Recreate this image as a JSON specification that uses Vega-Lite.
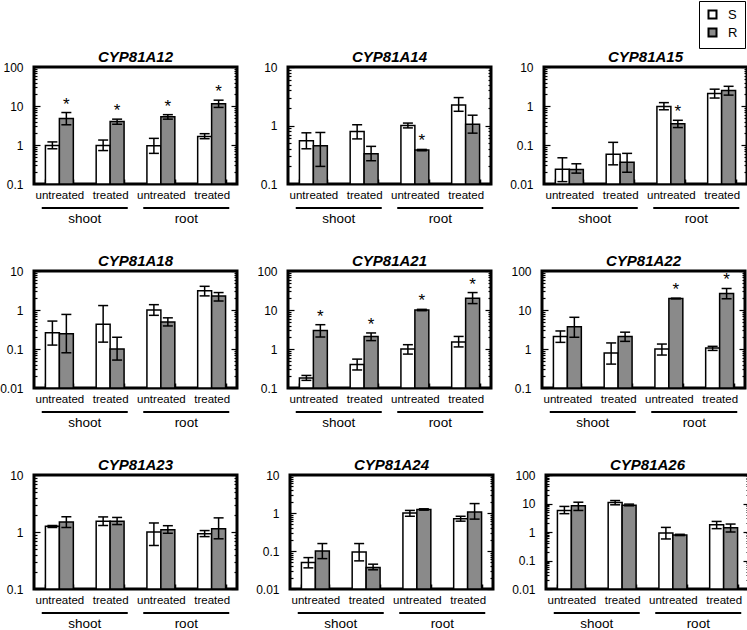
{
"$schema": "https://vega.github.io/schema/vega-lite/v6.json",
"padding": {"left": -2, "top": 0, "right": 0, "bottom": 0},
"data": {"name": "expr"},
"datasets": {"expr": [
{"gene":"CYP81A12","grp":"shoot untreated","strain":"S","v":0.97,"lo":0.8,"hi":1.2,"sig":false},
{"gene":"CYP81A12","grp":"shoot untreated","strain":"R","v":4.8,"lo":3.3,"hi":6.8,"sig":true},
{"gene":"CYP81A12","grp":"shoot treated","strain":"S","v":0.97,"lo":0.72,"hi":1.34,"sig":false},
{"gene":"CYP81A12","grp":"shoot treated","strain":"R","v":4.0,"lo":3.4,"hi":4.6,"sig":true},
{"gene":"CYP81A12","grp":"root untreated","strain":"S","v":0.96,"lo":0.61,"hi":1.48,"sig":false},
{"gene":"CYP81A12","grp":"root untreated","strain":"R","v":5.3,"lo":4.6,"hi":6.0,"sig":true},
{"gene":"CYP81A12","grp":"root treated","strain":"S","v":1.66,"lo":1.45,"hi":1.95,"sig":false},
{"gene":"CYP81A12","grp":"root treated","strain":"R","v":11.5,"lo":9.2,"hi":14.1,"sig":true},
{"gene":"CYP81A14","grp":"shoot untreated","strain":"S","v":0.55,"lo":0.4,"hi":0.75,"sig":false},
{"gene":"CYP81A14","grp":"shoot untreated","strain":"R","v":0.45,"lo":0.2,"hi":0.76,"sig":false},
{"gene":"CYP81A14","grp":"shoot treated","strain":"S","v":0.79,"lo":0.59,"hi":1.03,"sig":false},
{"gene":"CYP81A14","grp":"shoot treated","strain":"R","v":0.33,"lo":0.25,"hi":0.44,"sig":false},
{"gene":"CYP81A14","grp":"root untreated","strain":"S","v":1.0,"lo":0.91,"hi":1.1,"sig":false},
{"gene":"CYP81A14","grp":"root untreated","strain":"R","v":0.38,"lo":0.37,"hi":0.39,"sig":true},
{"gene":"CYP81A14","grp":"root treated","strain":"S","v":2.25,"lo":1.75,"hi":3.0,"sig":false},
{"gene":"CYP81A14","grp":"root treated","strain":"R","v":1.05,"lo":0.74,"hi":1.5,"sig":false},
{"gene":"CYP81A15","grp":"shoot untreated","strain":"S","v":0.024,"lo":0.0115,"hi":0.047,"sig":false},
{"gene":"CYP81A15","grp":"shoot untreated","strain":"R","v":0.0235,"lo":0.019,"hi":0.033,"sig":false},
{"gene":"CYP81A15","grp":"shoot treated","strain":"S","v":0.058,"lo":0.031,"hi":0.117,"sig":false},
{"gene":"CYP81A15","grp":"shoot treated","strain":"R","v":0.036,"lo":0.02,"hi":0.061,"sig":false},
{"gene":"CYP81A15","grp":"root untreated","strain":"S","v":0.97,"lo":0.8,"hi":1.22,"sig":false},
{"gene":"CYP81A15","grp":"root untreated","strain":"R","v":0.35,"lo":0.28,"hi":0.43,"sig":true},
{"gene":"CYP81A15","grp":"root treated","strain":"S","v":2.08,"lo":1.6,"hi":2.7,"sig":false},
{"gene":"CYP81A15","grp":"root treated","strain":"R","v":2.5,"lo":1.9,"hi":3.2,"sig":false},
{"gene":"CYP81A18","grp":"shoot untreated","strain":"S","v":0.26,"lo":0.126,"hi":0.52,"sig":false},
{"gene":"CYP81A18","grp":"shoot untreated","strain":"R","v":0.245,"lo":0.08,"hi":0.77,"sig":false},
{"gene":"CYP81A18","grp":"shoot treated","strain":"S","v":0.43,"lo":0.15,"hi":1.3,"sig":false},
{"gene":"CYP81A18","grp":"shoot treated","strain":"R","v":0.1,"lo":0.052,"hi":0.2,"sig":false},
{"gene":"CYP81A18","grp":"root untreated","strain":"S","v":1.0,"lo":0.73,"hi":1.37,"sig":false},
{"gene":"CYP81A18","grp":"root untreated","strain":"R","v":0.49,"lo":0.39,"hi":0.63,"sig":false},
{"gene":"CYP81A18","grp":"root treated","strain":"S","v":3.1,"lo":2.3,"hi":4.05,"sig":false},
{"gene":"CYP81A18","grp":"root treated","strain":"R","v":2.3,"lo":1.7,"hi":2.8,"sig":false},
{"gene":"CYP81A21","grp":"shoot untreated","strain":"S","v":0.18,"lo":0.157,"hi":0.21,"sig":false},
{"gene":"CYP81A21","grp":"shoot untreated","strain":"R","v":3.0,"lo":2.03,"hi":4.2,"sig":true},
{"gene":"CYP81A21","grp":"shoot treated","strain":"S","v":0.4,"lo":0.29,"hi":0.55,"sig":false},
{"gene":"CYP81A21","grp":"shoot treated","strain":"R","v":2.1,"lo":1.64,"hi":2.58,"sig":true},
{"gene":"CYP81A21","grp":"root untreated","strain":"S","v":1.0,"lo":0.74,"hi":1.29,"sig":false},
{"gene":"CYP81A21","grp":"root untreated","strain":"R","v":10,"lo":9.6,"hi":10.4,"sig":true},
{"gene":"CYP81A21","grp":"root treated","strain":"S","v":1.51,"lo":1.13,"hi":2.1,"sig":false},
{"gene":"CYP81A21","grp":"root treated","strain":"R","v":20,"lo":14.6,"hi":28,"sig":true},
{"gene":"CYP81A22","grp":"shoot untreated","strain":"S","v":2.1,"lo":1.48,"hi":2.9,"sig":false},
{"gene":"CYP81A22","grp":"shoot untreated","strain":"R","v":3.7,"lo":2.0,"hi":6.5,"sig":false},
{"gene":"CYP81A22","grp":"shoot treated","strain":"S","v":0.79,"lo":0.41,"hi":1.43,"sig":false},
{"gene":"CYP81A22","grp":"shoot treated","strain":"R","v":2.1,"lo":1.57,"hi":2.7,"sig":false},
{"gene":"CYP81A22","grp":"root untreated","strain":"S","v":1.0,"lo":0.7,"hi":1.34,"sig":false},
{"gene":"CYP81A22","grp":"root untreated","strain":"R","v":19.7,"lo":19.3,"hi":20.1,"sig":true},
{"gene":"CYP81A22","grp":"root treated","strain":"S","v":1.06,"lo":0.92,"hi":1.17,"sig":false},
{"gene":"CYP81A22","grp":"root treated","strain":"R","v":26.5,"lo":19.4,"hi":35.6,"sig":true},
{"gene":"CYP81A23","grp":"shoot untreated","strain":"S","v":1.26,"lo":1.2,"hi":1.3,"sig":false},
{"gene":"CYP81A23","grp":"shoot untreated","strain":"R","v":1.5,"lo":1.2,"hi":1.85,"sig":false},
{"gene":"CYP81A23","grp":"shoot treated","strain":"S","v":1.55,"lo":1.3,"hi":1.84,"sig":false},
{"gene":"CYP81A23","grp":"shoot treated","strain":"R","v":1.55,"lo":1.35,"hi":1.8,"sig":false},
{"gene":"CYP81A23","grp":"root untreated","strain":"S","v":1.0,"lo":0.58,"hi":1.44,"sig":false},
{"gene":"CYP81A23","grp":"root untreated","strain":"R","v":1.1,"lo":0.95,"hi":1.29,"sig":false},
{"gene":"CYP81A23","grp":"root treated","strain":"S","v":0.93,"lo":0.83,"hi":1.06,"sig":false},
{"gene":"CYP81A23","grp":"root treated","strain":"R","v":1.14,"lo":0.76,"hi":1.77,"sig":false},
{"gene":"CYP81A24","grp":"shoot untreated","strain":"S","v":0.05,"lo":0.036,"hi":0.067,"sig":false},
{"gene":"CYP81A24","grp":"shoot untreated","strain":"R","v":0.1,"lo":0.063,"hi":0.157,"sig":false},
{"gene":"CYP81A24","grp":"shoot treated","strain":"S","v":0.094,"lo":0.055,"hi":0.157,"sig":false},
{"gene":"CYP81A24","grp":"shoot treated","strain":"R","v":0.037,"lo":0.032,"hi":0.045,"sig":false},
{"gene":"CYP81A24","grp":"root untreated","strain":"S","v":1.0,"lo":0.82,"hi":1.17,"sig":false},
{"gene":"CYP81A24","grp":"root untreated","strain":"R","v":1.24,"lo":1.19,"hi":1.29,"sig":false},
{"gene":"CYP81A24","grp":"root treated","strain":"S","v":0.71,"lo":0.61,"hi":0.82,"sig":false},
{"gene":"CYP81A24","grp":"root treated","strain":"R","v":1.06,"lo":0.69,"hi":1.77,"sig":false},
{"gene":"CYP81A26","grp":"shoot untreated","strain":"S","v":5.7,"lo":4.4,"hi":7.9,"sig":false},
{"gene":"CYP81A26","grp":"shoot untreated","strain":"R","v":8.3,"lo":5.7,"hi":11.1,"sig":false},
{"gene":"CYP81A26","grp":"shoot treated","strain":"S","v":10.8,"lo":9.0,"hi":12.7,"sig":false},
{"gene":"CYP81A26","grp":"shoot treated","strain":"R","v":8.7,"lo":8.3,"hi":9.5,"sig":false},
{"gene":"CYP81A26","grp":"root untreated","strain":"S","v":0.92,"lo":0.57,"hi":1.45,"sig":false},
{"gene":"CYP81A26","grp":"root untreated","strain":"R","v":0.79,"lo":0.75,"hi":0.83,"sig":false},
{"gene":"CYP81A26","grp":"root treated","strain":"S","v":1.8,"lo":1.31,"hi":2.35,"sig":false},
{"gene":"CYP81A26","grp":"root treated","strain":"R","v":1.42,"lo":1.0,"hi":1.9,"sig":false}
]},
"spacing": 27,
"vconcat": [
{"spacing": 14, "hconcat": [
{"spacing": 4, "vconcat": [
{"width": 203, "height": 117, "title": "CYP81A12", "view": {"stroke": "black", "strokeWidth": 3},
 "transform": [{"filter": "datum.gene === 'CYP81A12'"}],
 "encoding": {
  "x": {"field": "grp", "type": "nominal", "title": null, "scale": {"domain": ["shoot untreated","shoot treated","root untreated","root treated"], "paddingInner": 0.45, "paddingOuter": 0.225}, "axis": {"labelExpr": "split(datum.label, ' ')[1]", "labelAngle": 0, "tickBand": "extent", "tickSize": -5, "tickWidth": 1.5, "labelPadding": 10, "labelFontSize": 11.5}},
  "xOffset": {"field": "strain", "type": "nominal", "scale": {"domain": ["S","R"]}}
 },
 "resolve": {"scale": {"y": "independent"}},
 "layer": [
  {"mark": {"type": "bar", "stroke": "black", "strokeWidth": 1.5},
   "encoding": {"y": {"field": "v", "type": "quantitative", "title": null, "scale": {"type": "log", "domain": [0.1,100]}, "axis": {"values": [0.1,0.2,0.3,0.4,0.5,0.6,0.7,0.8,0.9,1,2,3,4,5,6,7,8,9,10,20,30,40,50,60,70,80,90,100], "format": "~g", "labelExpr": "indexof([0.01,0.1,1,10,100], datum.value) >= 0 ? datum.label : ''", "labelOverlap": false, "tickSize": {"condition": {"test": "indexof([0.01,0.1,1,10,100], datum.value) >= 0", "value": -6}, "value": -3}, "tickWidth": 1.2, "labelPadding": 17, "labelFontSize": 12, "minExtent": 32, "maxExtent": 32}},
    "y2": {"datum": 0.1},
    "fill": {"field": "strain", "type": "nominal", "title": null, "scale": {"domain": ["S","R"], "range": ["#ffffff","#8a8a8a"]}, "legend": {"orient": "none", "legendX": 665, "legendY": -66}}}},
  {"mark": {"type": "rule", "strokeWidth": 1.5, "color": "black"},
   "encoding": {"y": {"field": "lo", "type": "quantitative", "title": null, "scale": {"type": "log", "domain": [0.1,100]}, "axis": {"orient": "right", "values": [0.1,0.2,0.3,0.4,0.5,0.6,0.7,0.8,0.9,1,2,3,4,5,6,7,8,9,10,20,30,40,50,60,70,80,90,100], "labels": false, "tickSize": {"condition": {"test": "indexof([0.01,0.1,1,10,100], datum.value) >= 0", "value": -6}, "value": -3}, "tickWidth": 1.2, "minExtent": 0, "maxExtent": 0}}, "y2": {"field": "hi"}}},
  {"mark": {"type": "tick", "orient": "horizontal", "size": 10, "thickness": 1.5, "color": "black", "opacity": 1},
   "encoding": {"y": {"field": "lo", "type": "quantitative", "scale": {"type": "log", "domain": [0.1,100]}, "axis": null}}},
  {"mark": {"type": "tick", "orient": "horizontal", "size": 10, "thickness": 1.5, "color": "black", "opacity": 1},
   "encoding": {"y": {"field": "hi", "type": "quantitative", "scale": {"type": "log", "domain": [0.1,100]}, "axis": null}}},
  {"transform": [{"filter": "datum.sig"}], "mark": {"type": "text", "text": "*", "fontSize": 17, "baseline": "alphabetic", "dy": -3, "color": "black"},
   "encoding": {"y": {"field": "hi", "type": "quantitative", "scale": {"type": "log", "domain": [0.1,100]}, "axis": null}}}
 ]},
{"width": 203, "height": 4, "data": {"values": [{"tissue": "shoot"}, {"tissue": "root"}]},
 "mark": {"type": "tick", "orient": "horizontal", "size": 86, "thickness": 2, "color": "black", "opacity": 1},
 "encoding": {"x": {"field": "tissue", "type": "nominal", "title": null, "scale": {"domain": ["shoot","root"], "paddingInner": 0, "paddingOuter": 0}, "axis": {"ticks": false, "labelAngle": 0, "labelPadding": 1, "labelFontSize": 13.5}}}}
]},
{"spacing": 4, "vconcat": [
{"width": 203, "height": 117, "title": "CYP81A14", "view": {"stroke": "black", "strokeWidth": 3},
 "transform": [{"filter": "datum.gene === 'CYP81A14'"}],
 "encoding": {
  "x": {"field": "grp", "type": "nominal", "title": null, "scale": {"domain": ["shoot untreated","shoot treated","root untreated","root treated"], "paddingInner": 0.45, "paddingOuter": 0.225}, "axis": {"labelExpr": "split(datum.label, ' ')[1]", "labelAngle": 0, "tickBand": "extent", "tickSize": -5, "tickWidth": 1.5, "labelPadding": 10, "labelFontSize": 11.5}},
  "xOffset": {"field": "strain", "type": "nominal", "scale": {"domain": ["S","R"]}}
 },
 "resolve": {"scale": {"y": "independent"}},
 "layer": [
  {"mark": {"type": "bar", "stroke": "black", "strokeWidth": 1.5},
   "encoding": {"y": {"field": "v", "type": "quantitative", "title": null, "scale": {"type": "log", "domain": [0.1,10]}, "axis": {"values": [0.1,0.2,0.3,0.4,0.5,0.6,0.7,0.8,0.9,1,2,3,4,5,6,7,8,9,10], "format": "~g", "labelExpr": "indexof([0.01,0.1,1,10,100], datum.value) >= 0 ? datum.label : ''", "labelOverlap": false, "tickSize": {"condition": {"test": "indexof([0.01,0.1,1,10,100], datum.value) >= 0", "value": -6}, "value": -3}, "tickWidth": 1.2, "labelPadding": 17, "labelFontSize": 12, "minExtent": 32, "maxExtent": 32}},
    "y2": {"datum": 0.1},
    "fill": {"field": "strain", "type": "nominal", "title": null, "scale": {"domain": ["S","R"], "range": ["#ffffff","#8a8a8a"]}, "legend": {"orient": "none", "legendX": 665, "legendY": -66}}}},
  {"mark": {"type": "rule", "strokeWidth": 1.5, "color": "black"},
   "encoding": {"y": {"field": "lo", "type": "quantitative", "title": null, "scale": {"type": "log", "domain": [0.1,10]}, "axis": {"orient": "right", "values": [0.1,0.2,0.3,0.4,0.5,0.6,0.7,0.8,0.9,1,2,3,4,5,6,7,8,9,10], "labels": false, "tickSize": {"condition": {"test": "indexof([0.01,0.1,1,10,100], datum.value) >= 0", "value": -6}, "value": -3}, "tickWidth": 1.2, "minExtent": 0, "maxExtent": 0}}, "y2": {"field": "hi"}}},
  {"mark": {"type": "tick", "orient": "horizontal", "size": 10, "thickness": 1.5, "color": "black", "opacity": 1},
   "encoding": {"y": {"field": "lo", "type": "quantitative", "scale": {"type": "log", "domain": [0.1,10]}, "axis": null}}},
  {"mark": {"type": "tick", "orient": "horizontal", "size": 10, "thickness": 1.5, "color": "black", "opacity": 1},
   "encoding": {"y": {"field": "hi", "type": "quantitative", "scale": {"type": "log", "domain": [0.1,10]}, "axis": null}}},
  {"transform": [{"filter": "datum.sig"}], "mark": {"type": "text", "text": "*", "fontSize": 17, "baseline": "alphabetic", "dy": -3, "color": "black"},
   "encoding": {"y": {"field": "hi", "type": "quantitative", "scale": {"type": "log", "domain": [0.1,10]}, "axis": null}}}
 ]},
{"width": 203, "height": 4, "data": {"values": [{"tissue": "shoot"}, {"tissue": "root"}]},
 "mark": {"type": "tick", "orient": "horizontal", "size": 86, "thickness": 2, "color": "black", "opacity": 1},
 "encoding": {"x": {"field": "tissue", "type": "nominal", "title": null, "scale": {"domain": ["shoot","root"], "paddingInner": 0, "paddingOuter": 0}, "axis": {"ticks": false, "labelAngle": 0, "labelPadding": 1, "labelFontSize": 13.5}}}}
]},
{"spacing": 4, "vconcat": [
{"width": 203, "height": 117, "title": "CYP81A15", "view": {"stroke": "black", "strokeWidth": 3},
 "transform": [{"filter": "datum.gene === 'CYP81A15'"}],
 "encoding": {
  "x": {"field": "grp", "type": "nominal", "title": null, "scale": {"domain": ["shoot untreated","shoot treated","root untreated","root treated"], "paddingInner": 0.45, "paddingOuter": 0.225}, "axis": {"labelExpr": "split(datum.label, ' ')[1]", "labelAngle": 0, "tickBand": "extent", "tickSize": -5, "tickWidth": 1.5, "labelPadding": 10, "labelFontSize": 11.5}},
  "xOffset": {"field": "strain", "type": "nominal", "scale": {"domain": ["S","R"]}}
 },
 "resolve": {"scale": {"y": "independent"}},
 "layer": [
  {"mark": {"type": "bar", "stroke": "black", "strokeWidth": 1.5},
   "encoding": {"y": {"field": "v", "type": "quantitative", "title": null, "scale": {"type": "log", "domain": [0.01,10]}, "axis": {"values": [0.01,0.02,0.03,0.04,0.05,0.06,0.07,0.08,0.09,0.1,0.2,0.3,0.4,0.5,0.6,0.7,0.8,0.9,1,2,3,4,5,6,7,8,9,10], "format": "~g", "labelExpr": "indexof([0.01,0.1,1,10,100], datum.value) >= 0 ? datum.label : ''", "labelOverlap": false, "tickSize": {"condition": {"test": "indexof([0.01,0.1,1,10,100], datum.value) >= 0", "value": -6}, "value": -3}, "tickWidth": 1.2, "labelPadding": 17, "labelFontSize": 12, "minExtent": 32, "maxExtent": 32}},
    "y2": {"datum": 0.01},
    "fill": {"field": "strain", "type": "nominal", "title": null, "scale": {"domain": ["S","R"], "range": ["#ffffff","#8a8a8a"]}, "legend": {"orient": "none", "legendX": 665, "legendY": -66}}}},
  {"mark": {"type": "rule", "strokeWidth": 1.5, "color": "black"},
   "encoding": {"y": {"field": "lo", "type": "quantitative", "title": null, "scale": {"type": "log", "domain": [0.01,10]}, "axis": {"orient": "right", "values": [0.01,0.02,0.03,0.04,0.05,0.06,0.07,0.08,0.09,0.1,0.2,0.3,0.4,0.5,0.6,0.7,0.8,0.9,1,2,3,4,5,6,7,8,9,10], "labels": false, "tickSize": {"condition": {"test": "indexof([0.01,0.1,1,10,100], datum.value) >= 0", "value": -6}, "value": -3}, "tickWidth": 1.2, "minExtent": 0, "maxExtent": 0}}, "y2": {"field": "hi"}}},
  {"mark": {"type": "tick", "orient": "horizontal", "size": 10, "thickness": 1.5, "color": "black", "opacity": 1},
   "encoding": {"y": {"field": "lo", "type": "quantitative", "scale": {"type": "log", "domain": [0.01,10]}, "axis": null}}},
  {"mark": {"type": "tick", "orient": "horizontal", "size": 10, "thickness": 1.5, "color": "black", "opacity": 1},
   "encoding": {"y": {"field": "hi", "type": "quantitative", "scale": {"type": "log", "domain": [0.01,10]}, "axis": null}}},
  {"transform": [{"filter": "datum.sig"}], "mark": {"type": "text", "text": "*", "fontSize": 17, "baseline": "alphabetic", "dy": -3, "color": "black"},
   "encoding": {"y": {"field": "hi", "type": "quantitative", "scale": {"type": "log", "domain": [0.01,10]}, "axis": null}}}
 ]},
{"width": 203, "height": 4, "data": {"values": [{"tissue": "shoot"}, {"tissue": "root"}]},
 "mark": {"type": "tick", "orient": "horizontal", "size": 86, "thickness": 2, "color": "black", "opacity": 1},
 "encoding": {"x": {"field": "tissue", "type": "nominal", "title": null, "scale": {"domain": ["shoot","root"], "paddingInner": 0, "paddingOuter": 0}, "axis": {"ticks": false, "labelAngle": 0, "labelPadding": 1, "labelFontSize": 13.5}}}}
]}
]},
{"spacing": 14, "hconcat": [
{"spacing": 4, "vconcat": [
{"width": 203, "height": 117, "title": "CYP81A18", "view": {"stroke": "black", "strokeWidth": 3},
 "transform": [{"filter": "datum.gene === 'CYP81A18'"}],
 "encoding": {
  "x": {"field": "grp", "type": "nominal", "title": null, "scale": {"domain": ["shoot untreated","shoot treated","root untreated","root treated"], "paddingInner": 0.45, "paddingOuter": 0.225}, "axis": {"labelExpr": "split(datum.label, ' ')[1]", "labelAngle": 0, "tickBand": "extent", "tickSize": -5, "tickWidth": 1.5, "labelPadding": 10, "labelFontSize": 11.5}},
  "xOffset": {"field": "strain", "type": "nominal", "scale": {"domain": ["S","R"]}}
 },
 "resolve": {"scale": {"y": "independent"}},
 "layer": [
  {"mark": {"type": "bar", "stroke": "black", "strokeWidth": 1.5},
   "encoding": {"y": {"field": "v", "type": "quantitative", "title": null, "scale": {"type": "log", "domain": [0.01,10]}, "axis": {"values": [0.01,0.02,0.03,0.04,0.05,0.06,0.07,0.08,0.09,0.1,0.2,0.3,0.4,0.5,0.6,0.7,0.8,0.9,1,2,3,4,5,6,7,8,9,10], "format": "~g", "labelExpr": "indexof([0.01,0.1,1,10,100], datum.value) >= 0 ? datum.label : ''", "labelOverlap": false, "tickSize": {"condition": {"test": "indexof([0.01,0.1,1,10,100], datum.value) >= 0", "value": -6}, "value": -3}, "tickWidth": 1.2, "labelPadding": 17, "labelFontSize": 12, "minExtent": 32, "maxExtent": 32}},
    "y2": {"datum": 0.01},
    "fill": {"field": "strain", "type": "nominal", "title": null, "scale": {"domain": ["S","R"], "range": ["#ffffff","#8a8a8a"]}, "legend": {"orient": "none", "legendX": 665, "legendY": -66}}}},
  {"mark": {"type": "rule", "strokeWidth": 1.5, "color": "black"},
   "encoding": {"y": {"field": "lo", "type": "quantitative", "title": null, "scale": {"type": "log", "domain": [0.01,10]}, "axis": {"orient": "right", "values": [0.01,0.02,0.03,0.04,0.05,0.06,0.07,0.08,0.09,0.1,0.2,0.3,0.4,0.5,0.6,0.7,0.8,0.9,1,2,3,4,5,6,7,8,9,10], "labels": false, "tickSize": {"condition": {"test": "indexof([0.01,0.1,1,10,100], datum.value) >= 0", "value": -6}, "value": -3}, "tickWidth": 1.2, "minExtent": 0, "maxExtent": 0}}, "y2": {"field": "hi"}}},
  {"mark": {"type": "tick", "orient": "horizontal", "size": 10, "thickness": 1.5, "color": "black", "opacity": 1},
   "encoding": {"y": {"field": "lo", "type": "quantitative", "scale": {"type": "log", "domain": [0.01,10]}, "axis": null}}},
  {"mark": {"type": "tick", "orient": "horizontal", "size": 10, "thickness": 1.5, "color": "black", "opacity": 1},
   "encoding": {"y": {"field": "hi", "type": "quantitative", "scale": {"type": "log", "domain": [0.01,10]}, "axis": null}}},
  {"transform": [{"filter": "datum.sig"}], "mark": {"type": "text", "text": "*", "fontSize": 17, "baseline": "alphabetic", "dy": -3, "color": "black"},
   "encoding": {"y": {"field": "hi", "type": "quantitative", "scale": {"type": "log", "domain": [0.01,10]}, "axis": null}}}
 ]},
{"width": 203, "height": 4, "data": {"values": [{"tissue": "shoot"}, {"tissue": "root"}]},
 "mark": {"type": "tick", "orient": "horizontal", "size": 86, "thickness": 2, "color": "black", "opacity": 1},
 "encoding": {"x": {"field": "tissue", "type": "nominal", "title": null, "scale": {"domain": ["shoot","root"], "paddingInner": 0, "paddingOuter": 0}, "axis": {"ticks": false, "labelAngle": 0, "labelPadding": 1, "labelFontSize": 13.5}}}}
]},
{"spacing": 4, "vconcat": [
{"width": 203, "height": 117, "title": "CYP81A21", "view": {"stroke": "black", "strokeWidth": 3},
 "transform": [{"filter": "datum.gene === 'CYP81A21'"}],
 "encoding": {
  "x": {"field": "grp", "type": "nominal", "title": null, "scale": {"domain": ["shoot untreated","shoot treated","root untreated","root treated"], "paddingInner": 0.45, "paddingOuter": 0.225}, "axis": {"labelExpr": "split(datum.label, ' ')[1]", "labelAngle": 0, "tickBand": "extent", "tickSize": -5, "tickWidth": 1.5, "labelPadding": 10, "labelFontSize": 11.5}},
  "xOffset": {"field": "strain", "type": "nominal", "scale": {"domain": ["S","R"]}}
 },
 "resolve": {"scale": {"y": "independent"}},
 "layer": [
  {"mark": {"type": "bar", "stroke": "black", "strokeWidth": 1.5},
   "encoding": {"y": {"field": "v", "type": "quantitative", "title": null, "scale": {"type": "log", "domain": [0.1,100]}, "axis": {"values": [0.1,0.2,0.3,0.4,0.5,0.6,0.7,0.8,0.9,1,2,3,4,5,6,7,8,9,10,20,30,40,50,60,70,80,90,100], "format": "~g", "labelExpr": "indexof([0.01,0.1,1,10,100], datum.value) >= 0 ? datum.label : ''", "labelOverlap": false, "tickSize": {"condition": {"test": "indexof([0.01,0.1,1,10,100], datum.value) >= 0", "value": -6}, "value": -3}, "tickWidth": 1.2, "labelPadding": 17, "labelFontSize": 12, "minExtent": 32, "maxExtent": 32}},
    "y2": {"datum": 0.1},
    "fill": {"field": "strain", "type": "nominal", "title": null, "scale": {"domain": ["S","R"], "range": ["#ffffff","#8a8a8a"]}, "legend": {"orient": "none", "legendX": 665, "legendY": -66}}}},
  {"mark": {"type": "rule", "strokeWidth": 1.5, "color": "black"},
   "encoding": {"y": {"field": "lo", "type": "quantitative", "title": null, "scale": {"type": "log", "domain": [0.1,100]}, "axis": {"orient": "right", "values": [0.1,0.2,0.3,0.4,0.5,0.6,0.7,0.8,0.9,1,2,3,4,5,6,7,8,9,10,20,30,40,50,60,70,80,90,100], "labels": false, "tickSize": {"condition": {"test": "indexof([0.01,0.1,1,10,100], datum.value) >= 0", "value": -6}, "value": -3}, "tickWidth": 1.2, "minExtent": 0, "maxExtent": 0}}, "y2": {"field": "hi"}}},
  {"mark": {"type": "tick", "orient": "horizontal", "size": 10, "thickness": 1.5, "color": "black", "opacity": 1},
   "encoding": {"y": {"field": "lo", "type": "quantitative", "scale": {"type": "log", "domain": [0.1,100]}, "axis": null}}},
  {"mark": {"type": "tick", "orient": "horizontal", "size": 10, "thickness": 1.5, "color": "black", "opacity": 1},
   "encoding": {"y": {"field": "hi", "type": "quantitative", "scale": {"type": "log", "domain": [0.1,100]}, "axis": null}}},
  {"transform": [{"filter": "datum.sig"}], "mark": {"type": "text", "text": "*", "fontSize": 17, "baseline": "alphabetic", "dy": -3, "color": "black"},
   "encoding": {"y": {"field": "hi", "type": "quantitative", "scale": {"type": "log", "domain": [0.1,100]}, "axis": null}}}
 ]},
{"width": 203, "height": 4, "data": {"values": [{"tissue": "shoot"}, {"tissue": "root"}]},
 "mark": {"type": "tick", "orient": "horizontal", "size": 86, "thickness": 2, "color": "black", "opacity": 1},
 "encoding": {"x": {"field": "tissue", "type": "nominal", "title": null, "scale": {"domain": ["shoot","root"], "paddingInner": 0, "paddingOuter": 0}, "axis": {"ticks": false, "labelAngle": 0, "labelPadding": 1, "labelFontSize": 13.5}}}}
]},
{"spacing": 4, "vconcat": [
{"width": 203, "height": 117, "title": "CYP81A22", "view": {"stroke": "black", "strokeWidth": 3},
 "transform": [{"filter": "datum.gene === 'CYP81A22'"}],
 "encoding": {
  "x": {"field": "grp", "type": "nominal", "title": null, "scale": {"domain": ["shoot untreated","shoot treated","root untreated","root treated"], "paddingInner": 0.45, "paddingOuter": 0.225}, "axis": {"labelExpr": "split(datum.label, ' ')[1]", "labelAngle": 0, "tickBand": "extent", "tickSize": -5, "tickWidth": 1.5, "labelPadding": 10, "labelFontSize": 11.5}},
  "xOffset": {"field": "strain", "type": "nominal", "scale": {"domain": ["S","R"]}}
 },
 "resolve": {"scale": {"y": "independent"}},
 "layer": [
  {"mark": {"type": "bar", "stroke": "black", "strokeWidth": 1.5},
   "encoding": {"y": {"field": "v", "type": "quantitative", "title": null, "scale": {"type": "log", "domain": [0.1,100]}, "axis": {"values": [0.1,0.2,0.3,0.4,0.5,0.6,0.7,0.8,0.9,1,2,3,4,5,6,7,8,9,10,20,30,40,50,60,70,80,90,100], "format": "~g", "labelExpr": "indexof([0.01,0.1,1,10,100], datum.value) >= 0 ? datum.label : ''", "labelOverlap": false, "tickSize": {"condition": {"test": "indexof([0.01,0.1,1,10,100], datum.value) >= 0", "value": -6}, "value": -3}, "tickWidth": 1.2, "labelPadding": 17, "labelFontSize": 12, "minExtent": 32, "maxExtent": 32}},
    "y2": {"datum": 0.1},
    "fill": {"field": "strain", "type": "nominal", "title": null, "scale": {"domain": ["S","R"], "range": ["#ffffff","#8a8a8a"]}, "legend": {"orient": "none", "legendX": 665, "legendY": -66}}}},
  {"mark": {"type": "rule", "strokeWidth": 1.5, "color": "black"},
   "encoding": {"y": {"field": "lo", "type": "quantitative", "title": null, "scale": {"type": "log", "domain": [0.1,100]}, "axis": {"orient": "right", "values": [0.1,0.2,0.3,0.4,0.5,0.6,0.7,0.8,0.9,1,2,3,4,5,6,7,8,9,10,20,30,40,50,60,70,80,90,100], "labels": false, "tickSize": {"condition": {"test": "indexof([0.01,0.1,1,10,100], datum.value) >= 0", "value": -6}, "value": -3}, "tickWidth": 1.2, "minExtent": 0, "maxExtent": 0}}, "y2": {"field": "hi"}}},
  {"mark": {"type": "tick", "orient": "horizontal", "size": 10, "thickness": 1.5, "color": "black", "opacity": 1},
   "encoding": {"y": {"field": "lo", "type": "quantitative", "scale": {"type": "log", "domain": [0.1,100]}, "axis": null}}},
  {"mark": {"type": "tick", "orient": "horizontal", "size": 10, "thickness": 1.5, "color": "black", "opacity": 1},
   "encoding": {"y": {"field": "hi", "type": "quantitative", "scale": {"type": "log", "domain": [0.1,100]}, "axis": null}}},
  {"transform": [{"filter": "datum.sig"}], "mark": {"type": "text", "text": "*", "fontSize": 17, "baseline": "alphabetic", "dy": -3, "color": "black"},
   "encoding": {"y": {"field": "hi", "type": "quantitative", "scale": {"type": "log", "domain": [0.1,100]}, "axis": null}}}
 ]},
{"width": 203, "height": 4, "data": {"values": [{"tissue": "shoot"}, {"tissue": "root"}]},
 "mark": {"type": "tick", "orient": "horizontal", "size": 86, "thickness": 2, "color": "black", "opacity": 1},
 "encoding": {"x": {"field": "tissue", "type": "nominal", "title": null, "scale": {"domain": ["shoot","root"], "paddingInner": 0, "paddingOuter": 0}, "axis": {"ticks": false, "labelAngle": 0, "labelPadding": 1, "labelFontSize": 13.5}}}}
]}
]},
{"spacing": 14, "hconcat": [
{"spacing": 4, "vconcat": [
{"width": 203, "height": 114, "title": "CYP81A23", "view": {"stroke": "black", "strokeWidth": 3},
 "transform": [{"filter": "datum.gene === 'CYP81A23'"}],
 "encoding": {
  "x": {"field": "grp", "type": "nominal", "title": null, "scale": {"domain": ["shoot untreated","shoot treated","root untreated","root treated"], "paddingInner": 0.45, "paddingOuter": 0.225}, "axis": {"labelExpr": "split(datum.label, ' ')[1]", "labelAngle": 0, "tickBand": "extent", "tickSize": -5, "tickWidth": 1.5, "labelPadding": 10, "labelFontSize": 11.5}},
  "xOffset": {"field": "strain", "type": "nominal", "scale": {"domain": ["S","R"]}}
 },
 "resolve": {"scale": {"y": "independent"}},
 "layer": [
  {"mark": {"type": "bar", "stroke": "black", "strokeWidth": 1.5},
   "encoding": {"y": {"field": "v", "type": "quantitative", "title": null, "scale": {"type": "log", "domain": [0.1,10]}, "axis": {"values": [0.1,0.2,0.3,0.4,0.5,0.6,0.7,0.8,0.9,1,2,3,4,5,6,7,8,9,10], "format": "~g", "labelExpr": "indexof([0.01,0.1,1,10,100], datum.value) >= 0 ? datum.label : ''", "labelOverlap": false, "tickSize": {"condition": {"test": "indexof([0.01,0.1,1,10,100], datum.value) >= 0", "value": -6}, "value": -3}, "tickWidth": 1.2, "labelPadding": 17, "labelFontSize": 12, "minExtent": 32, "maxExtent": 32}},
    "y2": {"datum": 0.1},
    "fill": {"field": "strain", "type": "nominal", "title": null, "scale": {"domain": ["S","R"], "range": ["#ffffff","#8a8a8a"]}, "legend": {"orient": "none", "legendX": 665, "legendY": -66}}}},
  {"mark": {"type": "rule", "strokeWidth": 1.5, "color": "black"},
   "encoding": {"y": {"field": "lo", "type": "quantitative", "title": null, "scale": {"type": "log", "domain": [0.1,10]}, "axis": {"orient": "right", "values": [0.1,0.2,0.3,0.4,0.5,0.6,0.7,0.8,0.9,1,2,3,4,5,6,7,8,9,10], "labels": false, "tickSize": {"condition": {"test": "indexof([0.01,0.1,1,10,100], datum.value) >= 0", "value": -6}, "value": -3}, "tickWidth": 1.2, "minExtent": 0, "maxExtent": 0}}, "y2": {"field": "hi"}}},
  {"mark": {"type": "tick", "orient": "horizontal", "size": 10, "thickness": 1.5, "color": "black", "opacity": 1},
   "encoding": {"y": {"field": "lo", "type": "quantitative", "scale": {"type": "log", "domain": [0.1,10]}, "axis": null}}},
  {"mark": {"type": "tick", "orient": "horizontal", "size": 10, "thickness": 1.5, "color": "black", "opacity": 1},
   "encoding": {"y": {"field": "hi", "type": "quantitative", "scale": {"type": "log", "domain": [0.1,10]}, "axis": null}}},
  {"transform": [{"filter": "datum.sig"}], "mark": {"type": "text", "text": "*", "fontSize": 17, "baseline": "alphabetic", "dy": -3, "color": "black"},
   "encoding": {"y": {"field": "hi", "type": "quantitative", "scale": {"type": "log", "domain": [0.1,10]}, "axis": null}}}
 ]},
{"width": 203, "height": 4, "data": {"values": [{"tissue": "shoot"}, {"tissue": "root"}]},
 "mark": {"type": "tick", "orient": "horizontal", "size": 86, "thickness": 2, "color": "black", "opacity": 1},
 "encoding": {"x": {"field": "tissue", "type": "nominal", "title": null, "scale": {"domain": ["shoot","root"], "paddingInner": 0, "paddingOuter": 0}, "axis": {"ticks": false, "labelAngle": 0, "labelPadding": 1, "labelFontSize": 13.5}}}}
]},
{"spacing": 4, "vconcat": [
{"width": 203, "height": 114, "title": "CYP81A24", "view": {"stroke": "black", "strokeWidth": 3},
 "transform": [{"filter": "datum.gene === 'CYP81A24'"}],
 "encoding": {
  "x": {"field": "grp", "type": "nominal", "title": null, "scale": {"domain": ["shoot untreated","shoot treated","root untreated","root treated"], "paddingInner": 0.45, "paddingOuter": 0.225}, "axis": {"labelExpr": "split(datum.label, ' ')[1]", "labelAngle": 0, "tickBand": "extent", "tickSize": -5, "tickWidth": 1.5, "labelPadding": 10, "labelFontSize": 11.5}},
  "xOffset": {"field": "strain", "type": "nominal", "scale": {"domain": ["S","R"]}}
 },
 "resolve": {"scale": {"y": "independent"}},
 "layer": [
  {"mark": {"type": "bar", "stroke": "black", "strokeWidth": 1.5},
   "encoding": {"y": {"field": "v", "type": "quantitative", "title": null, "scale": {"type": "log", "domain": [0.01,10]}, "axis": {"values": [0.01,0.02,0.03,0.04,0.05,0.06,0.07,0.08,0.09,0.1,0.2,0.3,0.4,0.5,0.6,0.7,0.8,0.9,1,2,3,4,5,6,7,8,9,10], "format": "~g", "labelExpr": "indexof([0.01,0.1,1,10,100], datum.value) >= 0 ? datum.label : ''", "labelOverlap": false, "tickSize": {"condition": {"test": "indexof([0.01,0.1,1,10,100], datum.value) >= 0", "value": -6}, "value": -3}, "tickWidth": 1.2, "labelPadding": 17, "labelFontSize": 12, "minExtent": 32, "maxExtent": 32}},
    "y2": {"datum": 0.01},
    "fill": {"field": "strain", "type": "nominal", "title": null, "scale": {"domain": ["S","R"], "range": ["#ffffff","#8a8a8a"]}, "legend": {"orient": "none", "legendX": 665, "legendY": -66}}}},
  {"mark": {"type": "rule", "strokeWidth": 1.5, "color": "black"},
   "encoding": {"y": {"field": "lo", "type": "quantitative", "title": null, "scale": {"type": "log", "domain": [0.01,10]}, "axis": {"orient": "right", "values": [0.01,0.02,0.03,0.04,0.05,0.06,0.07,0.08,0.09,0.1,0.2,0.3,0.4,0.5,0.6,0.7,0.8,0.9,1,2,3,4,5,6,7,8,9,10], "labels": false, "tickSize": {"condition": {"test": "indexof([0.01,0.1,1,10,100], datum.value) >= 0", "value": -6}, "value": -3}, "tickWidth": 1.2, "minExtent": 0, "maxExtent": 0}}, "y2": {"field": "hi"}}},
  {"mark": {"type": "tick", "orient": "horizontal", "size": 10, "thickness": 1.5, "color": "black", "opacity": 1},
   "encoding": {"y": {"field": "lo", "type": "quantitative", "scale": {"type": "log", "domain": [0.01,10]}, "axis": null}}},
  {"mark": {"type": "tick", "orient": "horizontal", "size": 10, "thickness": 1.5, "color": "black", "opacity": 1},
   "encoding": {"y": {"field": "hi", "type": "quantitative", "scale": {"type": "log", "domain": [0.01,10]}, "axis": null}}},
  {"transform": [{"filter": "datum.sig"}], "mark": {"type": "text", "text": "*", "fontSize": 17, "baseline": "alphabetic", "dy": -3, "color": "black"},
   "encoding": {"y": {"field": "hi", "type": "quantitative", "scale": {"type": "log", "domain": [0.01,10]}, "axis": null}}}
 ]},
{"width": 203, "height": 4, "data": {"values": [{"tissue": "shoot"}, {"tissue": "root"}]},
 "mark": {"type": "tick", "orient": "horizontal", "size": 86, "thickness": 2, "color": "black", "opacity": 1},
 "encoding": {"x": {"field": "tissue", "type": "nominal", "title": null, "scale": {"domain": ["shoot","root"], "paddingInner": 0, "paddingOuter": 0}, "axis": {"ticks": false, "labelAngle": 0, "labelPadding": 1, "labelFontSize": 13.5}}}}
]},
{"spacing": 4, "vconcat": [
{"width": 203, "height": 114, "title": "CYP81A26", "view": {"stroke": "black", "strokeWidth": 3},
 "transform": [{"filter": "datum.gene === 'CYP81A26'"}],
 "encoding": {
  "x": {"field": "grp", "type": "nominal", "title": null, "scale": {"domain": ["shoot untreated","shoot treated","root untreated","root treated"], "paddingInner": 0.45, "paddingOuter": 0.225}, "axis": {"labelExpr": "split(datum.label, ' ')[1]", "labelAngle": 0, "tickBand": "extent", "tickSize": -5, "tickWidth": 1.5, "labelPadding": 10, "labelFontSize": 11.5}},
  "xOffset": {"field": "strain", "type": "nominal", "scale": {"domain": ["S","R"]}}
 },
 "resolve": {"scale": {"y": "independent"}},
 "layer": [
  {"mark": {"type": "bar", "stroke": "black", "strokeWidth": 1.5},
   "encoding": {"y": {"field": "v", "type": "quantitative", "title": null, "scale": {"type": "log", "domain": [0.01,100]}, "axis": {"values": [0.01,0.02,0.03,0.04,0.05,0.06,0.07,0.08,0.09,0.1,0.2,0.3,0.4,0.5,0.6,0.7,0.8,0.9,1,2,3,4,5,6,7,8,9,10,20,30,40,50,60,70,80,90,100], "format": "~g", "labelExpr": "indexof([0.01,0.1,1,10,100], datum.value) >= 0 ? datum.label : ''", "labelOverlap": false, "tickSize": {"condition": {"test": "indexof([0.01,0.1,1,10,100], datum.value) >= 0", "value": -6}, "value": -3}, "tickWidth": 1.2, "labelPadding": 17, "labelFontSize": 12, "minExtent": 32, "maxExtent": 32}},
    "y2": {"datum": 0.01},
    "fill": {"field": "strain", "type": "nominal", "title": null, "scale": {"domain": ["S","R"], "range": ["#ffffff","#8a8a8a"]}, "legend": {"orient": "none", "legendX": 665, "legendY": -66}}}},
  {"mark": {"type": "rule", "strokeWidth": 1.5, "color": "black"},
   "encoding": {"y": {"field": "lo", "type": "quantitative", "title": null, "scale": {"type": "log", "domain": [0.01,100]}, "axis": {"orient": "right", "values": [0.01,0.02,0.03,0.04,0.05,0.06,0.07,0.08,0.09,0.1,0.2,0.3,0.4,0.5,0.6,0.7,0.8,0.9,1,2,3,4,5,6,7,8,9,10,20,30,40,50,60,70,80,90,100], "labels": false, "tickSize": {"condition": {"test": "indexof([0.01,0.1,1,10,100], datum.value) >= 0", "value": -6}, "value": -3}, "tickWidth": 1.2, "minExtent": 0, "maxExtent": 0}}, "y2": {"field": "hi"}}},
  {"mark": {"type": "tick", "orient": "horizontal", "size": 10, "thickness": 1.5, "color": "black", "opacity": 1},
   "encoding": {"y": {"field": "lo", "type": "quantitative", "scale": {"type": "log", "domain": [0.01,100]}, "axis": null}}},
  {"mark": {"type": "tick", "orient": "horizontal", "size": 10, "thickness": 1.5, "color": "black", "opacity": 1},
   "encoding": {"y": {"field": "hi", "type": "quantitative", "scale": {"type": "log", "domain": [0.01,100]}, "axis": null}}},
  {"transform": [{"filter": "datum.sig"}], "mark": {"type": "text", "text": "*", "fontSize": 17, "baseline": "alphabetic", "dy": -3, "color": "black"},
   "encoding": {"y": {"field": "hi", "type": "quantitative", "scale": {"type": "log", "domain": [0.01,100]}, "axis": null}}}
 ]},
{"width": 203, "height": 4, "data": {"values": [{"tissue": "shoot"}, {"tissue": "root"}]},
 "mark": {"type": "tick", "orient": "horizontal", "size": 86, "thickness": 2, "color": "black", "opacity": 1},
 "encoding": {"x": {"field": "tissue", "type": "nominal", "title": null, "scale": {"domain": ["shoot","root"], "paddingInner": 0, "paddingOuter": 0}, "axis": {"ticks": false, "labelAngle": 0, "labelPadding": 1, "labelFontSize": 13.5}}}}
]}
]}
],
"config": {
 "font": "Liberation Sans",
 "view": {"stroke": null},
 "axis": {"domain": false, "grid": false, "labelColor": "black", "tickColor": "black", "labelFont": "Liberation Sans"},
 "title": {"fontSize": 15, "fontStyle": "italic", "fontWeight": "bold", "anchor": "middle", "frame": "group", "baseline": "alphabetic", "offset": -4, "color": "black", "font": "Liberation Sans"},
 "legend": {"strokeColor": "black", "padding": 7, "symbolType": "square", "symbolSize": 64, "symbolStrokeColor": "black", "symbolStrokeWidth": 2, "labelFontSize": 13, "labelOffset": 9, "rowPadding": 1, "labelColor": "black", "labelFont": "Liberation Sans"}
}
}
